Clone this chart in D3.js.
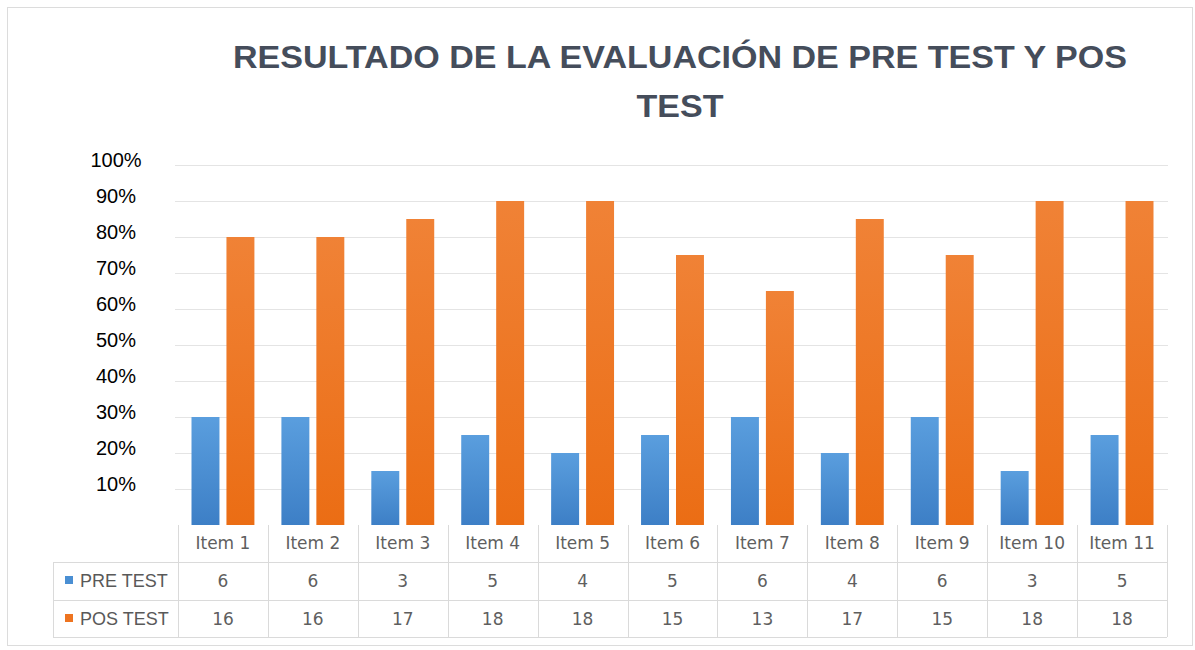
<!DOCTYPE html>
<html>
<head>
<meta charset="utf-8">
<script src="https://cdn.jsdelivr.net/npm/d3@7"></script>
<style>
  html, body { margin: 0; padding: 0; background: #fff; }
  svg { display: block; }
</style>
</head>
<body>
<svg id="chart" width="1195" height="650"></svg>
<script>
const categories = ["Item 1","Item 2","Item 3","Item 4","Item 5","Item 6","Item 7","Item 8","Item 9","Item 10","Item 11"];
const seriesNames = ["PRE TEST","POS TEST"];
const preCounts = [6,6,3,5,4,5,6,4,6,3,5];
const posCounts = [16,16,17,18,18,15,13,17,15,18,18];
const prePct = [0.30,0.30,0.15,0.25,0.20,0.25,0.30,0.20,0.30,0.15,0.25];
const posPct = [0.80,0.80,0.85,0.90,0.90,0.75,0.65,0.85,0.75,0.90,0.90];
const yTicks = [0.1,0.2,0.3,0.4,0.5,0.6,0.7,0.8,0.9,1.0];
const titleLines = ["RESULTADO DE LA EVALUACIÓN DE PRE TEST Y POS","TEST"];

const svg = d3.select("#chart");

// gradients
const defs = svg.append("defs");
const g1 = defs.append("linearGradient").attr("id","gBlue").attr("x1",0).attr("y1",0).attr("x2",0).attr("y2",1);
g1.append("stop").attr("offset","0%").attr("stop-color","#5a9ede");
g1.append("stop").attr("offset","100%").attr("stop-color","#3d7fc6");
const g2 = defs.append("linearGradient").attr("id","gOrange").attr("x1",0).attr("y1",0).attr("x2",0).attr("y2",1);
g2.append("stop").attr("offset","0%").attr("stop-color","#f08236");
g2.append("stop").attr("offset","100%").attr("stop-color","#eb6d14");
const fills = ["url(#gBlue)","url(#gOrange)"];
const keyColors = ["#4a8fd3","#ee7420"];

// outer frame
svg.append("rect").attr("x",7.5).attr("y",7.5).attr("width",1185).attr("height",638)
  .attr("fill","#fff").attr("stroke","#dcdcdc").attr("stroke-width",1);

// scales
const x = d3.scaleBand().domain(categories).range([178, 1167]).padding(0);
const xs = d3.scaleBand().domain(seriesNames).range([13.5, x.bandwidth()-13.5]).paddingInner(0.2);
const y = d3.scaleLinear().domain([0,1]).range([525,165]);

// gridlines
svg.append("g").selectAll("line").data(yTicks).join("line")
  .attr("x1",175).attr("x2",1168)
  .attr("y1",d=>Math.round(y(d))+0.5).attr("y2",d=>Math.round(y(d))+0.5)
  .attr("stroke","#e4e4e4").attr("stroke-width",1);

// y axis labels via d3 axis
const yAxis = d3.axisLeft(y).tickValues(yTicks).tickFormat(d3.format(".0%")).tickSize(0);
const ya = svg.append("g").attr("transform","translate(116,0)").call(yAxis);
ya.select(".domain").remove();
ya.selectAll("text")
  .attr("x",0).attr("dy",null).attr("dominant-baseline",null)
  .attr("text-anchor","middle")
  .attr("transform","translate(0,2)")
  .style("font-family","'Liberation Sans', Arial, sans-serif")
  .style("font-size","20px").attr("fill","#000");
ya.selectAll(".tick").each(function(d){
  d3.select(this).attr("transform",`translate(0,${y(d)})`);
});

// bars
const data = categories.map((c,i)=>({c, vals:[prePct[i], posPct[i]]}));
const groups = svg.append("g").selectAll("g").data(data).join("g")
  .attr("transform", d=>`translate(${x(d.c)},0)`);
groups.selectAll("rect").data(d=>d.vals.map((v,j)=>({v, s:seriesNames[j], j}))).join("rect")
  .attr("x", d=>xs(d.s)).attr("width", xs.bandwidth())
  .attr("y", d=>y(d.v)).attr("height", d=>y(0)-y(d.v))
  .attr("fill", d=>fills[d.j]);

// data table
const rowTop = [525, 562, 600, 637];
const tbl = svg.append("g").attr("stroke","#dadada").attr("stroke-width",1).attr("shape-rendering","crispEdges");
// horizontal lines
[562,600,637].forEach(yy=>{
  tbl.append("line").attr("x1",53).attr("x2",1167).attr("y1",yy).attr("y2",yy);
});
// vertical lines
const vx = categories.map(c=>x(c)).concat([x.range()[1]]);
tbl.selectAll("line.v").data(vx).join("line").attr("class","v")
  .attr("x1",d=>Math.round(d)).attr("x2",d=>Math.round(d)).attr("y1",525).attr("y2",637);
tbl.append("line").attr("x1",53).attr("x2",53).attr("y1",562).attr("y2",637);

// item labels
svg.append("g").selectAll("text").data(categories).join("text")
  .attr("x", d=>x(d)+x.bandwidth()/2).attr("y", 549)
  .attr("text-anchor","middle")
  .style("font-family","'DejaVu Sans', sans-serif").style("font-size","17px")
  .attr("fill","#5f5f5f").text(d=>d);

// values
const rows = [preCounts, posCounts];
const rowBase = [587, 625];
rows.forEach((vals,ri)=>{
  svg.append("g").selectAll("text").data(vals).join("text")
    .attr("x",(d,i)=>x(categories[i])+x.bandwidth()/2).attr("y",rowBase[ri])
    .attr("text-anchor","middle")
    .style("font-family","'DejaVu Sans', sans-serif").style("font-size","17px")
    .attr("fill","#5f5f5f").text(d=>d);
  svg.append("rect").attr("x",65).attr("y",rowBase[ri]-11).attr("width",8).attr("height",8)
    .attr("fill",keyColors[ri]);
  svg.append("text").attr("x",80).attr("y",rowBase[ri])
    .style("font-family","'Liberation Sans', Arial, sans-serif").style("font-size","18px")
    .attr("fill","#595959").text(seriesNames[ri]);
});

// title
const t1 = svg.append("text").attr("x",680).attr("y",68).attr("text-anchor","middle")
  .style("font-family","'Liberation Sans', Arial, sans-serif").style("font-size","32px")
  .style("font-weight","bold").attr("fill","#454d5b").text(titleLines[0]);
const nat1 = t1.node().getComputedTextLength();
const ratio = 894 / nat1;
t1.attr("textLength",894).attr("lengthAdjust","spacingAndGlyphs");
const t2 = svg.append("text").attr("x",680).attr("y",117).attr("text-anchor","middle")
  .style("font-family","'Liberation Sans', Arial, sans-serif").style("font-size","32px")
  .style("font-weight","bold").attr("fill","#454d5b").text(titleLines[1]);
const nat2 = t2.node().getComputedTextLength();
t2.attr("textLength",nat2*ratio).attr("lengthAdjust","spacingAndGlyphs");
</script>
</body>
</html>
